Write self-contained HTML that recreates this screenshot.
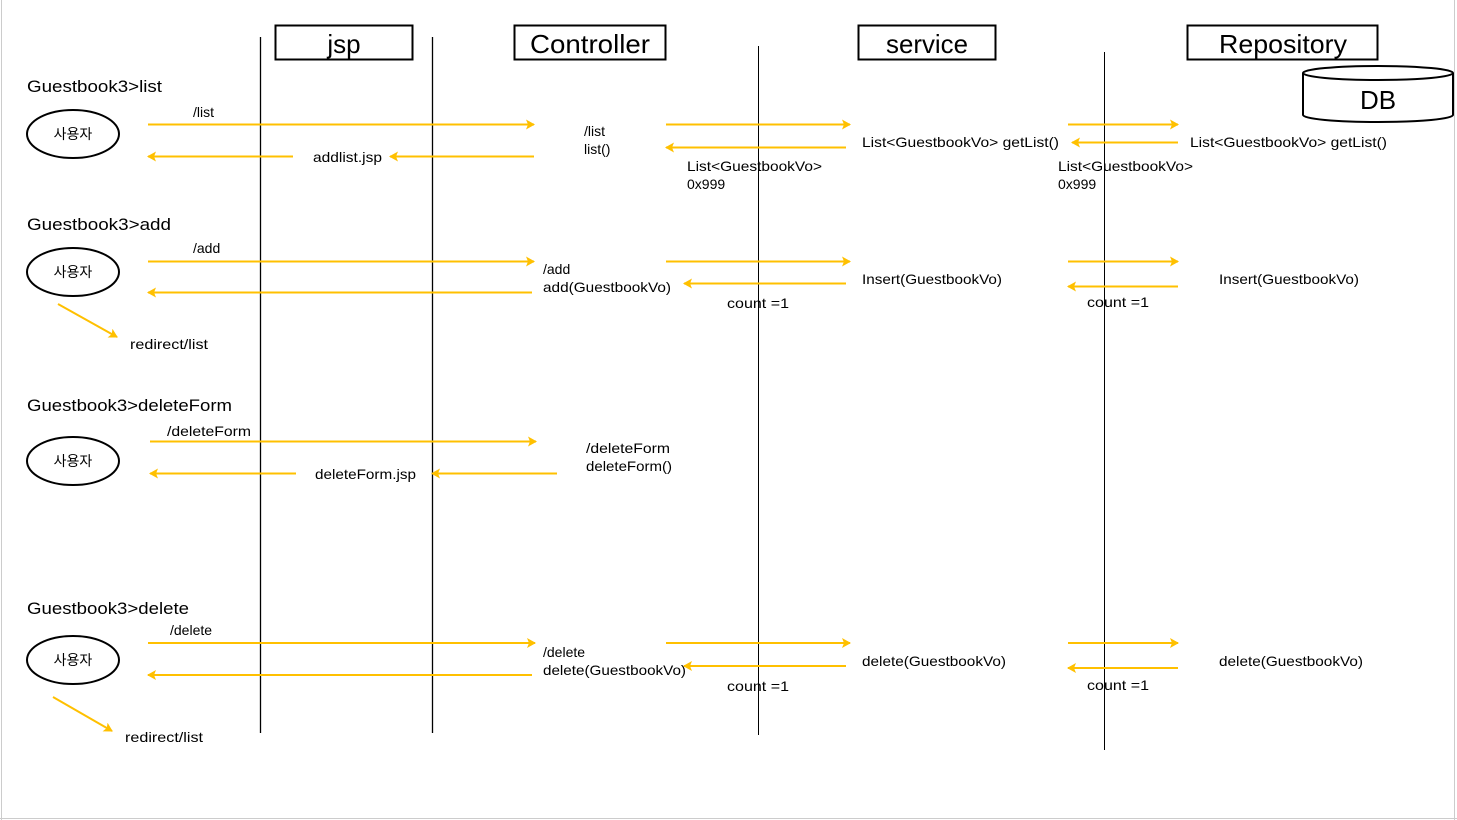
<!DOCTYPE html>
<html><head><meta charset="utf-8"><style>
html,body{margin:0;padding:0;background:#fff;}
svg{display:block;}
text{font-family:"Liberation Sans","Noto Sans CJK KR",sans-serif;fill:#000;}
.t{font-size:14px;}
.h{font-size:17px;}
.b{font-size:26px;}
.a{stroke:#FFC000;stroke-width:2;fill:none;}
</style></head><body>
<svg width="1457" height="820" viewBox="0 0 1457 820" xmlns="http://www.w3.org/2000/svg">
<defs>
<marker id="m" markerWidth="10" markerHeight="10" refX="8" refY="5" orient="auto" markerUnits="userSpaceOnUse">
<path d="M0,0 L9,5 L0,10 L2,5 Z" fill="#FFC000"/>
</marker>
</defs>
<line x1="1.5" y1="0" x2="1.5" y2="820" stroke="#ccc"/>
<line x1="1454.5" y1="0" x2="1454.5" y2="820" stroke="#ccc"/>
<line x1="0" y1="818.5" x2="1457" y2="818.5" stroke="#ccc"/>

<!-- lifelines -->
<line x1="260.5" y1="37" x2="260.5" y2="733" stroke="#000" stroke-width="1.3"/>
<line x1="432.5" y1="37" x2="432.5" y2="733" stroke="#000" stroke-width="1.3"/>
<line x1="758.5" y1="46" x2="758.5" y2="735" stroke="#000"/>
<line x1="1104.5" y1="52" x2="1104.5" y2="750" stroke="#000"/>

<!-- boxes -->
<rect x="275.5" y="25.5" width="137" height="34" fill="#fff" stroke="#000" stroke-width="2"/>
<text class="b" x="344" y="53" text-anchor="middle">jsp</text>
<rect x="514.5" y="25.5" width="151" height="34" fill="#fff" stroke="#000" stroke-width="2"/>
<text class="b" x="590" y="53" text-anchor="middle" textLength="120" lengthAdjust="spacingAndGlyphs">Controller</text>
<rect x="858.5" y="25.5" width="137" height="34" fill="#fff" stroke="#000" stroke-width="2"/>
<text class="b" x="927" y="53" text-anchor="middle" textLength="82" lengthAdjust="spacingAndGlyphs">service</text>
<rect x="1187.5" y="25.5" width="190" height="34" fill="#fff" stroke="#000" stroke-width="2"/>
<text class="b" x="1283" y="53" text-anchor="middle" textLength="128" lengthAdjust="spacingAndGlyphs">Repository</text>

<!-- DB -->
<path d="M1303,73 L1303,115 A75,7 0 0 0 1453,115 L1453,73" fill="#fff" stroke="#000" stroke-width="2"/>
<ellipse cx="1378" cy="73" rx="75" ry="7" fill="#fff" stroke="#000" stroke-width="2"/>
<text class="b" x="1378" y="109" text-anchor="middle">DB</text>

<!-- actors -->
<g fill="#fff" stroke="#000" stroke-width="2">
<ellipse cx="73" cy="134" rx="46" ry="24"/>
<ellipse cx="73" cy="272" rx="46" ry="24"/>
<ellipse cx="73" cy="461" rx="46" ry="24"/>
<ellipse cx="73" cy="660" rx="46" ry="24"/>
</g>
<text class="t" x="73" y="139" text-anchor="middle">사용자</text>
<text class="t" x="73" y="277" text-anchor="middle">사용자</text>
<text class="t" x="73" y="466" text-anchor="middle">사용자</text>
<text class="t" x="73" y="665" text-anchor="middle">사용자</text>

<!-- headings -->
<text class="h" x="27" y="92" textLength="135" lengthAdjust="spacingAndGlyphs">Guestbook3&gt;list</text>
<text class="h" x="27" y="230" textLength="144" lengthAdjust="spacingAndGlyphs">Guestbook3&gt;add</text>
<text class="h" x="27" y="411" textLength="205" lengthAdjust="spacingAndGlyphs">Guestbook3&gt;deleteForm</text>
<text class="h" x="27" y="614" textLength="162" lengthAdjust="spacingAndGlyphs">Guestbook3&gt;delete</text>

<g class="a" marker-end="url(#m)">
<!-- list -->
<line x1="148" y1="124.5" x2="534" y2="124.5"/>
<line x1="534" y1="156.5" x2="390" y2="156.5"/>
<line x1="293" y1="156.5" x2="148" y2="156.5"/>
<line x1="666" y1="124.5" x2="850" y2="124.5"/>
<line x1="846" y1="147.5" x2="666" y2="147.5"/>
<line x1="1068" y1="124.5" x2="1178" y2="124.5"/>
<line x1="1178" y1="142.5" x2="1072" y2="142.5"/>
<!-- add -->
<line x1="148" y1="261.5" x2="534" y2="261.5"/>
<line x1="532" y1="292.5" x2="148" y2="292.5"/>
<line x1="666" y1="261.5" x2="850" y2="261.5"/>
<line x1="846" y1="283.5" x2="684" y2="283.5"/>
<line x1="1068" y1="261.5" x2="1178" y2="261.5"/>
<line x1="1178" y1="286.5" x2="1068" y2="286.5"/>
<line x1="58" y1="304" x2="117" y2="337"/>
<!-- deleteForm -->
<line x1="150" y1="441.5" x2="536" y2="441.5"/>
<line x1="557" y1="473.5" x2="432" y2="473.5"/>
<line x1="296" y1="473.5" x2="150" y2="473.5"/>
<!-- delete -->
<line x1="148" y1="643" x2="535" y2="643"/>
<line x1="532" y1="675" x2="148" y2="675"/>
<line x1="666" y1="643" x2="850" y2="643"/>
<line x1="846" y1="666" x2="684" y2="666"/>
<line x1="1068" y1="643" x2="1178" y2="643"/>
<line x1="1178" y1="668" x2="1068" y2="668"/>
<line x1="53" y1="697" x2="112" y2="731"/>
</g>

<!-- labels -->
<g class="t">
<text x="193" y="117">/list</text>
<text x="313" y="162" textLength="69" lengthAdjust="spacingAndGlyphs">addlist.jsp</text>
<text x="584" y="136">/list</text>
<text x="584" y="154">list()</text>
<text x="862" y="147" textLength="197" lengthAdjust="spacingAndGlyphs">List&lt;GuestbookVo&gt;  getList()</text>
<text x="687" y="171" textLength="135" lengthAdjust="spacingAndGlyphs">List&lt;GuestbookVo&gt;</text>
<text x="687" y="189">0x999</text>
<text x="1058" y="171" textLength="135" lengthAdjust="spacingAndGlyphs">List&lt;GuestbookVo&gt;</text>
<text x="1058" y="189">0x999</text>
<text x="1190" y="147" textLength="197" lengthAdjust="spacingAndGlyphs">List&lt;GuestbookVo&gt;  getList()</text>

<text x="193" y="253">/add</text>
<text x="543" y="274">/add</text>
<text x="543" y="292" textLength="128" lengthAdjust="spacingAndGlyphs">add(GuestbookVo)</text>
<text x="862" y="284" textLength="140" lengthAdjust="spacingAndGlyphs">Insert(GuestbookVo)</text>
<text x="727" y="308" textLength="62" lengthAdjust="spacingAndGlyphs">count =1</text>
<text x="1087" y="307" textLength="62" lengthAdjust="spacingAndGlyphs">count =1</text>
<text x="1219" y="284" textLength="140" lengthAdjust="spacingAndGlyphs">Insert(GuestbookVo)</text>
<text x="130" y="349" textLength="78" lengthAdjust="spacingAndGlyphs">redirect/list</text>

<text x="167" y="436" textLength="84" lengthAdjust="spacingAndGlyphs">/deleteForm</text>
<text x="315" y="479" textLength="101" lengthAdjust="spacingAndGlyphs">deleteForm.jsp</text>
<text x="586" y="453" textLength="84" lengthAdjust="spacingAndGlyphs">/deleteForm</text>
<text x="586" y="471" textLength="86" lengthAdjust="spacingAndGlyphs">deleteForm()</text>

<text x="170" y="635">/delete</text>
<text x="543" y="657">/delete</text>
<text x="543" y="675" textLength="143" lengthAdjust="spacingAndGlyphs">delete(GuestbookVo)</text>
<text x="862" y="666" textLength="144" lengthAdjust="spacingAndGlyphs">delete(GuestbookVo)</text>
<text x="727" y="691" textLength="62" lengthAdjust="spacingAndGlyphs">count =1</text>
<text x="1087" y="690" textLength="62" lengthAdjust="spacingAndGlyphs">count =1</text>
<text x="1219" y="666" textLength="144" lengthAdjust="spacingAndGlyphs">delete(GuestbookVo)</text>
<text x="125" y="742" textLength="78" lengthAdjust="spacingAndGlyphs">redirect/list</text>
</g>
</svg>
</body></html>
